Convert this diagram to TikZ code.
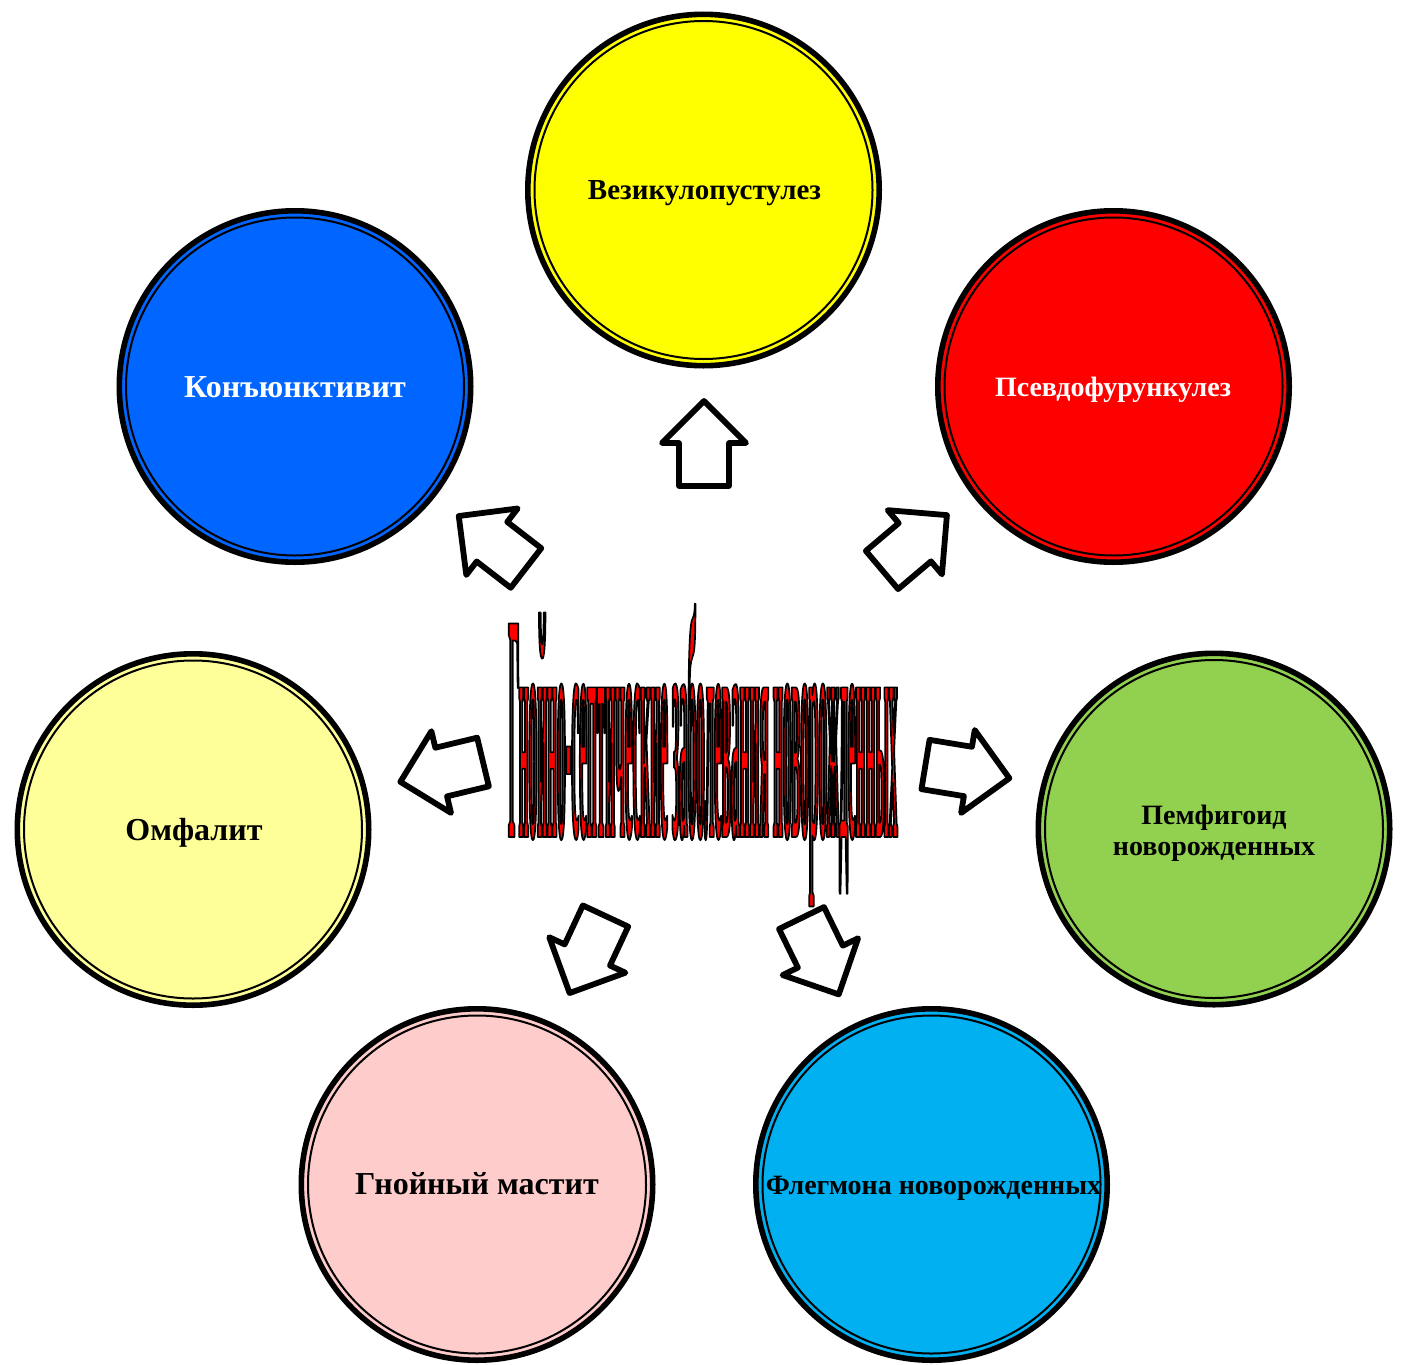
\documentclass[tikz,border=0pt]{standalone}
\usepackage{fontspec}
\setmainfont{Liberation Serif}
\newfontfamily\wabase{Liberation Serif}[UprightFont=* Bold]
\newcommand\watext{Гнойно-септические заболевания новорожденных}
\newlength\walen
\settowidth\walen{\wabase\fontsize{163pt}{163pt}\selectfont\watext}
\pgfmathsetmacro\waratio{194.5/\walen}
\edef\wadef{\noexpand\newfontfamily\noexpand\wafont{Liberation Serif}[UprightFont=* Bold,FakeStretch=\waratio]}
\wadef
\definecolor{cyel}{HTML}{FFFF00}
\definecolor{cblue}{HTML}{0066FF}
\definecolor{cred}{HTML}{FF0000}
\definecolor{cpale}{HTML}{FFFF99}
\definecolor{cgreen}{HTML}{92D050}
\definecolor{cpink}{HTML}{FFCCCC}
\definecolor{ccyan}{HTML}{00B0F0}
\tikzset{
  disc/.style={circle, draw=black, line width=2.8pt, minimum size=175.7pt, inner sep=0pt,
    font=\bfseries\fontsize{14.5pt}{15.5pt}\selectfont, align=center},
  lbl/.style={anchor=base, inner sep=0pt, font=\bfseries\fontsize{14.5pt}{15.5pt}\selectfont},
  big/.style={font=\bfseries\fontsize{16pt}{17pt}\selectfont},
  small/.style={font=\bfseries\fontsize{14pt}{15.5pt}\selectfont},
  ring/.style={draw=black, line width=1pt},
  blk/.style={draw=black, fill=white, line width=2.9pt, line join=round},
  blockarrow/.pic={\draw[blk] (0,-25) -- (43,-25) -- (43,-42) -- (85,0) -- (43,42) -- (43,25) -- (0,25) -- cycle;}
}
\begin{document}
\begin{tikzpicture}[x=0.5pt,y=-0.5pt]
\useasboundingbox[fill=white] (0,0) rectangle (1408,1365);
% circles
\node[disc, fill=cyel] (ves) at (703.5,190) {};
\node[disc, fill=cblue] (kon) at (295,386.5) {};
\node[disc, fill=cred] (psev) at (1113.5,386.5) {};
\node[disc, fill=cpale] (omf) at (193,829.5) {};
\node[disc, fill=cgreen] (pem) at (1214,829) {};
\node[disc, fill=cpink] (mast) at (477,1184.5) {};
\node[disc, fill=ccyan] (fleg) at (931.5,1184.5) {};
\foreach \n in {ves,kon,psev,omf,pem,mast,fleg} \draw[ring] (\n.center) circle (169);
% labels (baselines as in the reference)
\node[lbl] (tves) at (704.5,199) {Везикулопустулез};
\node[lbl, big, text=white] (tkon) at (295,397) {Конъюнктивит};
\node[lbl, small, text=white] (tpsev) at (1113,396) {Псевдофурункулез};
\node[lbl, big] (tomf) at (194,840) {Омфалит};
\node[lbl, small] (tpem1) at (1214,824) {Пемфигоид};
\node[lbl, small] (tpem2) at (1214,855) {новорожденных};
\node[lbl, big] (tmast) at (477,1194) {Гнойный мастит};
\node[lbl, small] (tfleg) at (933.5,1194) {Флегмона новорожденных};
% block arrows
\pic[rotate=90] (a1) at (704,486) {blockarrow};
\pic[rotate=142.3] (a2) at (526,568) {blockarrow};
\pic[rotate=40.2] (a3) at (882,570) {blockarrow};
\pic[rotate=193.5] (a4) at (483,762) {blockarrow};
\pic[rotate=-9.3] (a5) at (925.5,764.5) {blockarrow};
\pic[rotate=245] (a6) at (605.5,916) {blockarrow};
\pic[rotate=296] (a7) at (801.5,918) {blockarrow};
% central title
\node[anchor=base west, inner sep=0pt] (title) at (508,837) {\wafont\fontsize{163pt}{163pt}\selectfont\special{pdf:literal direct 1 0 0 rg 0 0 0 RG 0.85 w 1 j 1 J 2 Tr}\watext\special{pdf:literal direct 0 Tr 0 0 0 rg 0 0 0 RG}};
\end{tikzpicture}
\end{document}
